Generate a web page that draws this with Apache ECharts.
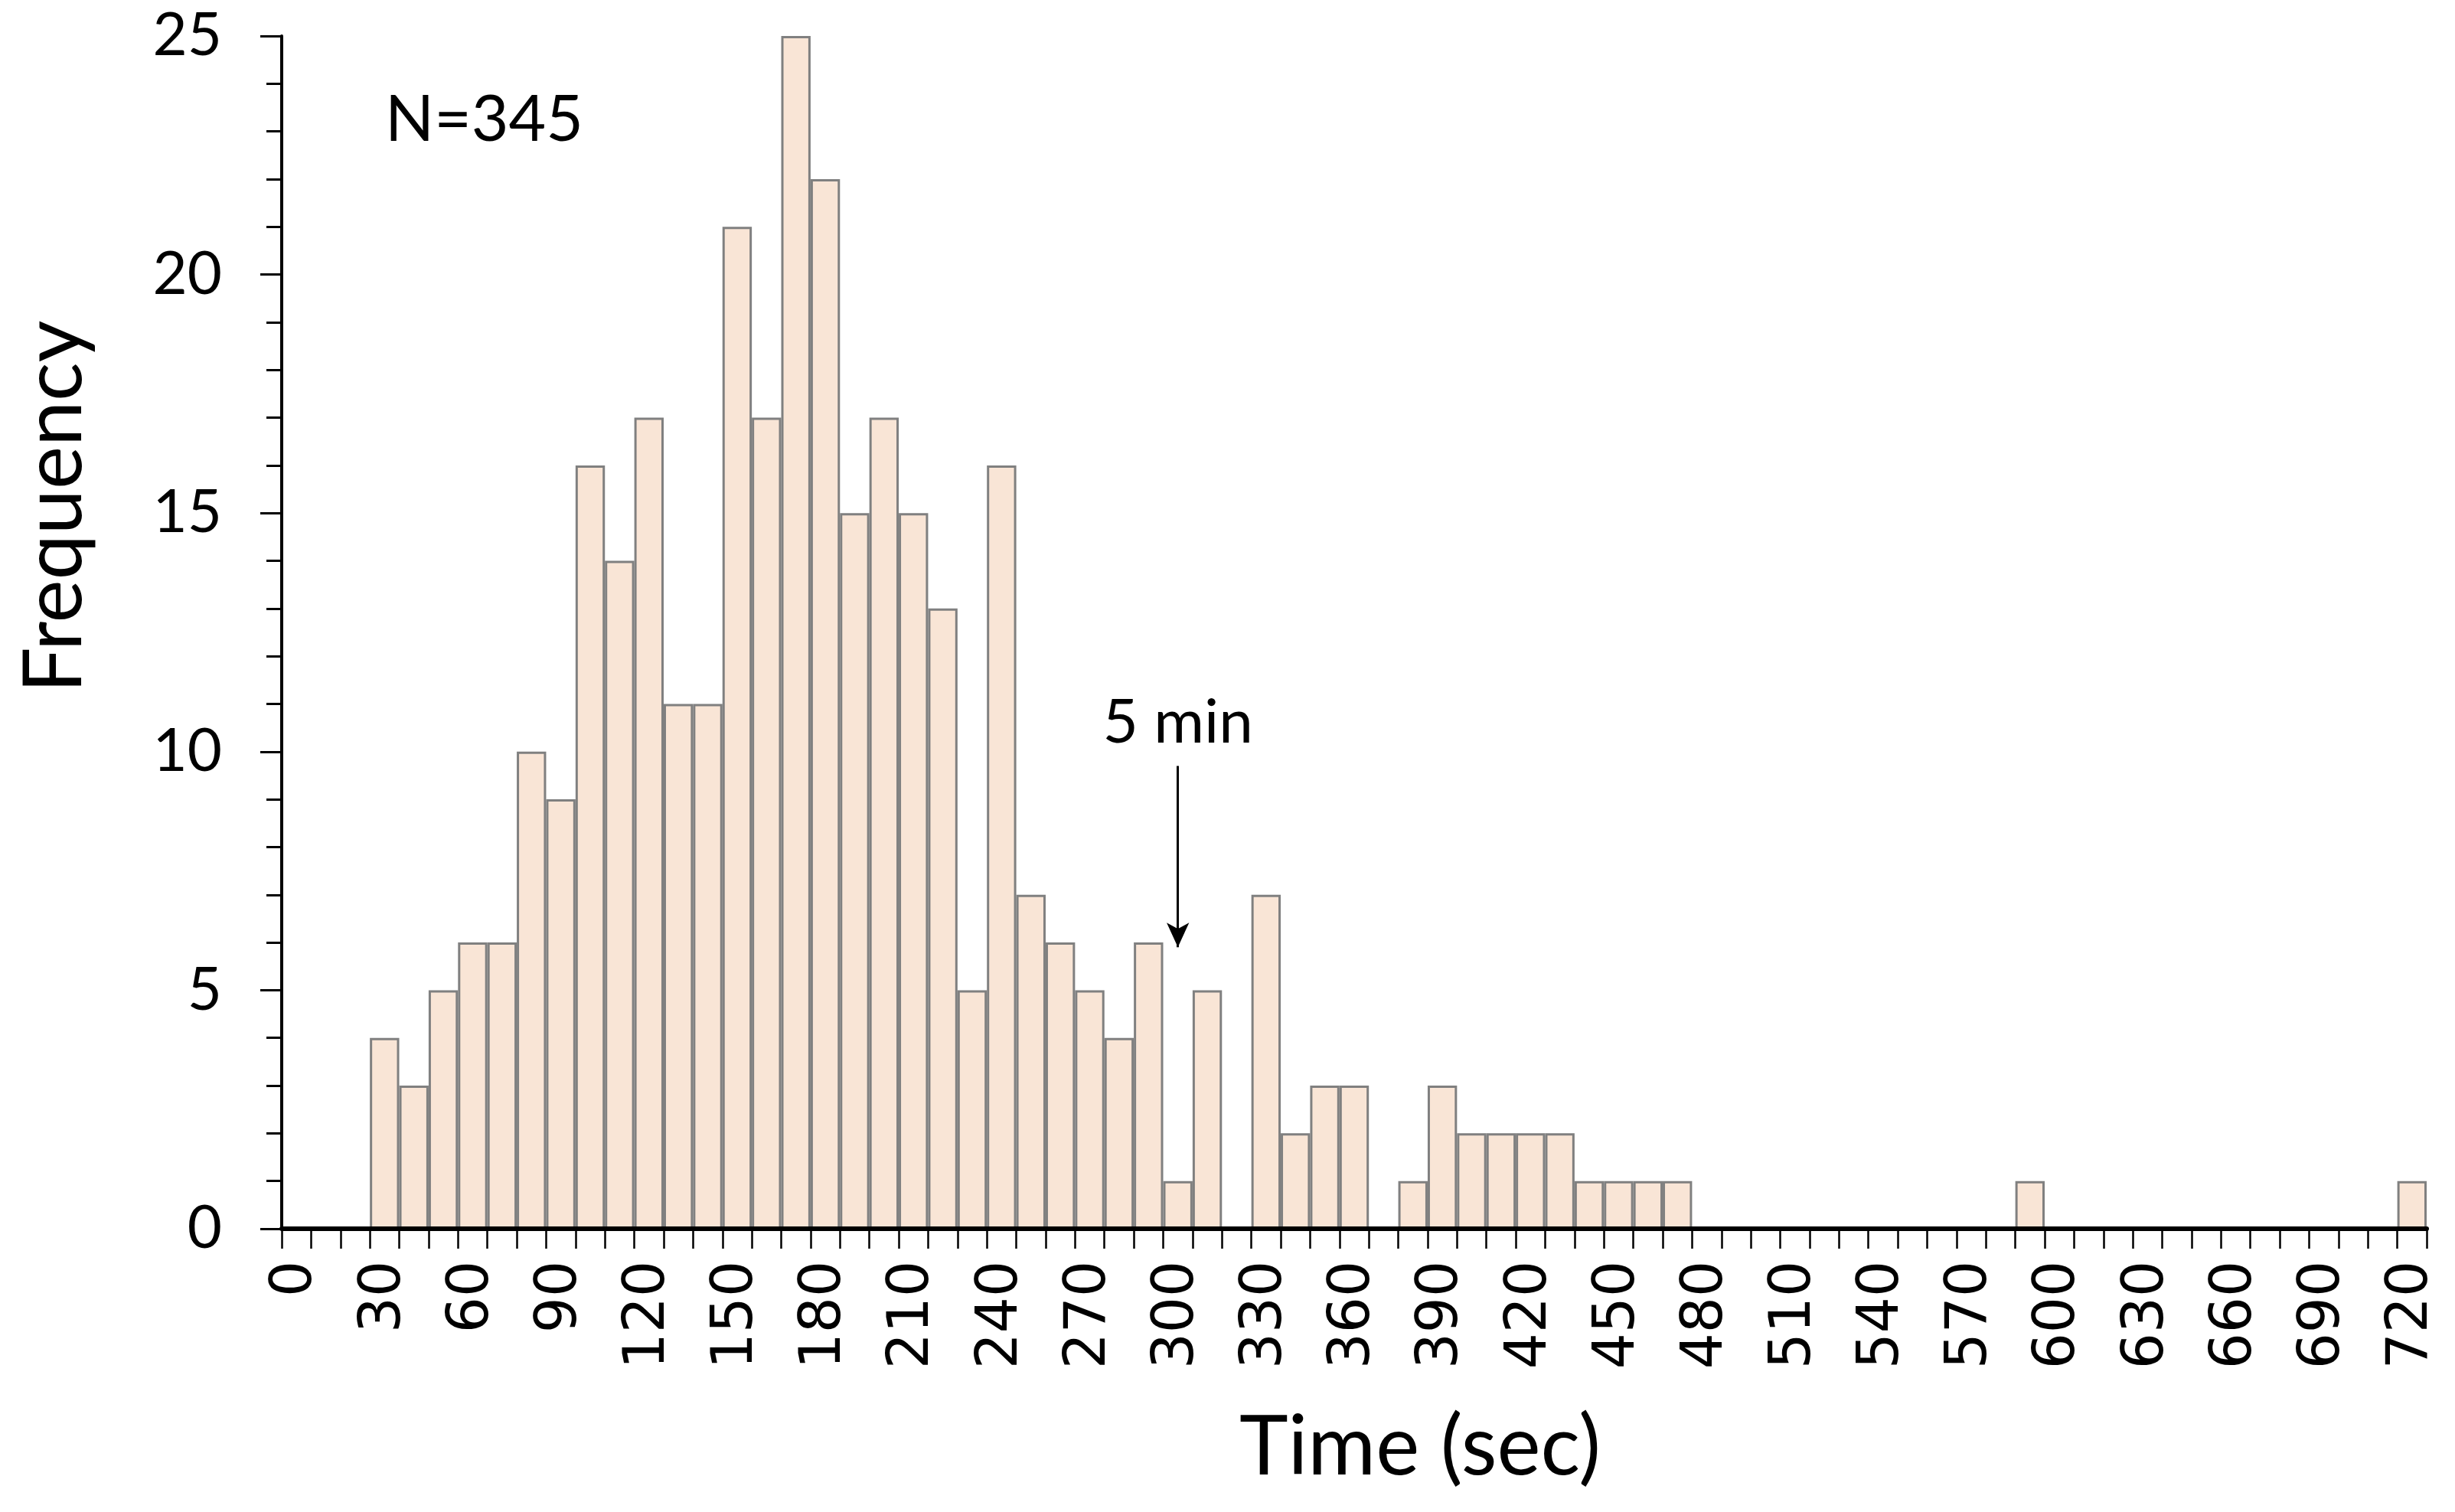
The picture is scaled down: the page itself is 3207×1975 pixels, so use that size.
<!DOCTYPE html>
<html><head><meta charset="utf-8">
<script src="https://cdn.jsdelivr.net/npm/echarts@6/dist/echarts.min.js"></script>
<style>html,body{margin:0;padding:0;background:#fff}#c{width:3207px;height:1975px}</style>
</head><body><div id="c"></div>
<script>
const categories = ['0','10','20','30','40','50','60','70','80','90','100','110','120','130','140','150','160','170','180','190','200','210','220','230','240','250','260','270','280','290','300','310','320','330','340','350','360','370','380','390','400','410','420','430','440','450','460','470','480','490','500','510','520','530','540','550','560','570','580','590','600','610','620','630','640','650','660','670','680','690','700','710','720'];
const frequency = [0,0,0,4,3,5,6,6,10,9,16,14,17,11,11,21,17,25,22,15,17,15,13,5,16,7,6,5,4,6,1,5,0,7,2,3,3,0,1,3,2,2,2,2,1,1,1,1,0,0,0,0,0,0,0,0,0,0,0,1,0,0,0,0,0,0,0,0,0,0,0,0,1];
const yTicks = [0,5,10,15,20,25];
const annotationText = '5 min';
const annotationCategory = '300';
const annotationFrom = 9.7;
const annotationTo = 5.9;
const sampleText = 'N=345';
const xTitle = 'Time (sec)';
const yTitle = 'Frequency';

const chart = echarts.init(document.getElementById('c'), null, {renderer:'canvas'});
chart.setOption({
  animation:false,
  backgroundColor:'#fff',
  grid:{left:368,right:37,top:47,bottom:370,containLabel:false},
  xAxis:{
    type:'category', data:categories, boundaryGap:true, z:10,
    axisLine:{lineStyle:{color:'#000',width:6}},
    axisTick:{show:true,interval:0,length:26,lineStyle:{color:'#000',width:2.5}},
    axisLabel:{interval:2,rotate:90,fontFamily:'DejaVu Sans',fontSize:74,color:'#000',margin:42},
    splitLine:{show:false}
  },
  yAxis:{
    type:'value', min:yTicks[0], max:yTicks[yTicks.length-1], interval:5, z:10,
    axisLine:{show:true,lineStyle:{color:'#000',width:4}},
    axisTick:{show:true,length:28,lineStyle:{color:'#000',width:3}},
    minorTick:{show:true,splitNumber:5,length:20,lineStyle:{color:'#000',width:3}},
    splitLine:{show:false},
    axisLabel:{fontFamily:'Lato',fontSize:78,color:'#000',margin:78}
  },
  graphic:[
    {type:'text',left:503,top:115,style:{text:sampleText,font:'84px Lato',fill:'#000'}},
    {type:'text',x:1855,y:1891,style:{text:xTitle,font:'108px Lato',fill:'#000',align:'center',verticalAlign:'middle'}},
    {type:'text',x:72,y:662,rotation:Math.PI/2,style:{text:yTitle,font:'106px Lato',fill:'#000',align:'center',verticalAlign:'middle'}}
  ],
  series:[{
    type:'bar', data:frequency, barCategoryGap:'0%',
    itemStyle:{color:'#F9E5D6',borderColor:'#808080',borderWidth:3},
    markLine:{
      silent:true, animation:false,
      symbol:['none','arrow'], symbolSize:[22,32],
      lineStyle:{color:'#000',width:3,type:'solid'},
      label:{show:true,position:'start',formatter:annotationText,fontFamily:'Lato',fontSize:80,color:'#000',distance:16},
      data:[[{coord:[annotationCategory,annotationFrom]},{coord:[annotationCategory,annotationTo]}]]
    }
  }]
});
</script></body></html>
